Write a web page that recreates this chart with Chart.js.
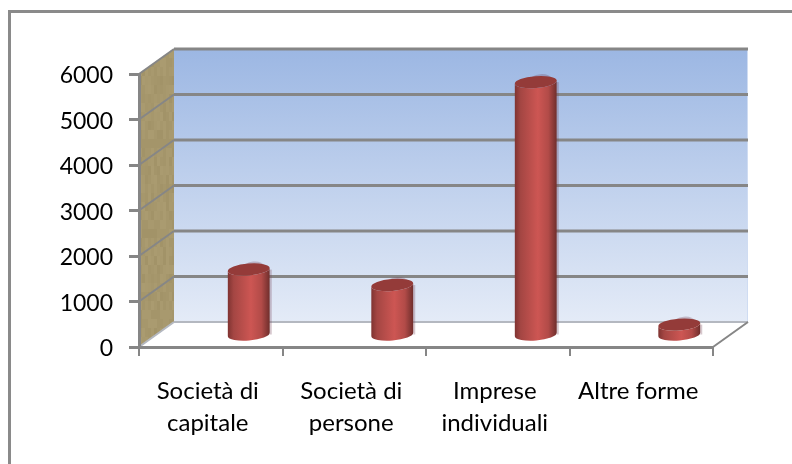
<!DOCTYPE html>
<html>
<head>
<meta charset="utf-8">
<script src="https://cdn.jsdelivr.net/npm/chart.js@4"></script>
<style>
  html, body { margin: 0; padding: 0; background: #fff; }
  #wrap { width: 792px; height: 464px; }
</style>
</head>
<body>
<div id="wrap"><canvas id="chart" width="792" height="464"></canvas></div>
<script>
const categories = [["Società di", "capitale"], ["Società di", "persone"], ["Imprese", "individuali"], "Altre forme"];
const values = [1460, 1120, 5580, 250];
const yTicks = [0, 1000, 2000, 3000, 4000, 5000, 6000];

const gridColor = "#868686";
const depthX = 35, depthY = 25;   // how far the back wall sits from the front axes
const barShiftX = 38, barShiftY = 11; // cylinders stand part way into the floor
const capRy = 6;

// wood look of the side wall, small patches of close tones
const woodTones = ["#a8996e", "#a5966b", "#aa9b70", "#a6976c", "#a29368", "#a99a6f", "#a4956a"];

const backdrop = {
  id: "backdrop",
  beforeDraw(chart) {
    const ctx = chart.ctx;
    const { left, right, top, bottom } = chart.chartArea;
    const y = chart.scales.y;

    ctx.save();
    // outer frame, only top and left show in the picture
    ctx.fillStyle = "#8a8a8a";
    ctx.fillRect(8, 10, 784, 3);
    ctx.fillRect(8, 10, 3, 454);

    // back wall
    const wall = ctx.createLinearGradient(0, top - depthY, 0, bottom - depthY);
    wall.addColorStop(0, "#9cb7e3");
    wall.addColorStop(1, "#e4ebf7");
    ctx.fillStyle = wall;
    ctx.fillRect(left + depthX, top - depthY, right - left, bottom - top);
    ctx.fillStyle = "#cfdcf2";
    ctx.fillRect(right + depthX - 1, top - depthY, 1, bottom - top);

    // side wall
    ctx.beginPath();
    ctx.moveTo(left, top);
    ctx.lineTo(left + depthX, top - depthY);
    ctx.lineTo(left + depthX, bottom - depthY);
    ctx.lineTo(left, bottom);
    ctx.closePath();
    ctx.save();
    ctx.clip();
    for (let i = 0; i < depthX; i += 3) {
      for (let j = 0; j < bottom - top + depthY; j += 9) {
        const n = (i * 7 + j * 13 + i * j) % 97;
        ctx.fillStyle = woodTones[n % woodTones.length];
        ctx.fillRect(left + i, top - depthY + j, 3, 9);
      }
    }
    ctx.restore();

    // floor stays white, grid lines wrap from side wall to back wall
    yTicks.forEach(t => {
      const py = y.getPixelForValue(t);
      ctx.strokeStyle = t === 0 ? "#b4b8c0" : gridColor;
      ctx.lineWidth = 2;
      ctx.beginPath();
      ctx.moveTo(left, py);
      ctx.lineTo(left + depthX, py - depthY);
      ctx.stroke();
      ctx.lineWidth = t === 0 ? 2 : 3;
      ctx.beginPath();
      ctx.moveTo(left + depthX, py - depthY);
      ctx.lineTo(right + depthX, py - depthY);
      ctx.stroke();
    });
    ctx.strokeStyle = gridColor;
    ctx.lineWidth = 2;
    ctx.beginPath();
    ctx.moveTo(right, bottom);
    ctx.lineTo(right + depthX, bottom - depthY);
    ctx.stroke();
    ctx.restore();
  }
};

const cylinders = {
  id: "cylinders",
  afterDatasetsDraw(chart) {
    const ctx = chart.ctx;
    const tilt = -0.08;
    chart.getDatasetMeta(0).data.forEach(bar => {
      const cx = bar.x + barShiftX;
      const rx = bar.width / 2;
      const yTop = bar.y - barShiftY;
      const yBase = bar.base - barShiftY;

      ctx.save();
      // faint reflection behind the right edge and the cap
      ctx.fillStyle = "rgba(120, 70, 90, 0.3)";
      ctx.fillRect(cx + rx, yTop, 2, yBase - yTop);
      ctx.beginPath();
      ctx.ellipse(cx + 5, yTop - 2, rx - 10, capRy, tilt, 0, Math.PI * 2);
      ctx.fill();

      // body
      const g = ctx.createLinearGradient(cx - rx, 0, cx + rx, 0);
      g.addColorStop(0, "#7f3331");
      g.addColorStop(0.14, "#a44643");
      g.addColorStop(0.55, "#cd5653");
      g.addColorStop(0.8, "#b24b48");
      g.addColorStop(1, "#6f2e2c");
      ctx.fillStyle = g;
      ctx.beginPath();
      ctx.ellipse(cx, yTop, rx, capRy, tilt, Math.PI, 0, true);
      ctx.lineTo(cx + rx, yBase - 2);
      ctx.ellipse(cx, yBase, rx, capRy, tilt, 0, Math.PI);
      ctx.closePath();
      ctx.fill();

      // cap
      ctx.fillStyle = "#943b39";
      ctx.beginPath();
      ctx.ellipse(cx, yTop, rx, capRy, tilt, 0, Math.PI * 2);
      ctx.fill();
      ctx.restore();
    });
  }
};

new Chart(document.getElementById("chart"), {
  type: "bar",
  data: {
    labels: categories,
    datasets: [{
      data: values,
      backgroundColor: "rgba(0,0,0,0)",
      barThickness: 42
    }]
  },
  plugins: [backdrop, cylinders],
  options: {
    responsive: false,
    animation: false,
    layout: { padding: { top: 74, right: 79, left: 0, bottom: 0 } },
    plugins: { legend: { display: false }, tooltip: { enabled: false } },
    scales: {
      x: {
        afterFit(scale) { scale.height = 117; },
        border: { color: gridColor, width: 3 },
        grid: { drawOnChartArea: false, color: gridColor, lineWidth: 2, tickLength: 9 },
        ticks: {
          color: "#000",
          padding: 19,
          labelOffset: -3,
          maxRotation: 0,
          autoSkip: false,
          font: { family: "Lato", size: 24, lineHeight: 1.35 }
        }
      },
      y: {
        min: 0,
        max: 6000,
        afterFit(scale) { scale.width = 139; },
        afterBuildTicks(scale) { scale.ticks = yTicks.map(v => ({ value: v })); },
        border: { color: gridColor, width: 3 },
        grid: { drawOnChartArea: false, color: gridColor, lineWidth: 3, tickLength: 10 },
        ticks: {
          color: "#000",
          padding: 16,
          labelOffset: 2,
          callback: v => String(v),
          font: { family: "Lato", size: 23 }
        }
      }
    }
  }
});
</script>
</body>
</html>
